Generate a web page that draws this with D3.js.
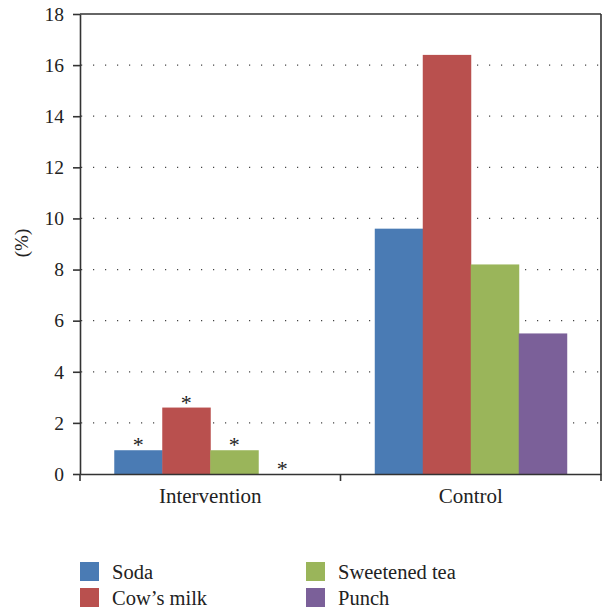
<!DOCTYPE html>
<html><head><meta charset="utf-8">
<script src="https://cdn.jsdelivr.net/npm/d3@7/dist/d3.min.js"></script>
<style>body{margin:0;background:#fff}svg{display:block}text{font-family:"Liberation Serif","DejaVu Serif",serif;fill:#222}</style>
</head><body><svg id="c" width="605" height="612"></svg>
<script>
const categories = ["Intervention", "Control"];
const seriesNames = ["Soda", "Cow\u2019s milk", "Sweetened tea", "Punch"];
const soda = [0.93, 9.6];
const cowsMilk = [2.6, 16.4];
const sweetenedTea = [0.93, 8.2];
const punch = [0, 5.5];
const significant = [true, false];
const yTicks = [0, 2, 4, 6, 8, 10, 12, 14, 16, 18];
const colors = ["#4a7bb4", "#b9504e", "#9ab55a", "#7b6099"];

const seriesValues = [soda, cowsMilk, sweetenedTea, punch];
const svg = d3.select("#c");
const L = 80, R = 601, T = 14, B = 474;
const x0 = d3.scaleBand().domain(categories).range([L, R]).paddingInner(0).paddingOuter(0);
const x1 = d3.scaleBand().domain(seriesNames).range([0, x0.bandwidth()]).paddingOuter(0.714).paddingInner(0);
const y = d3.scaleLinear().domain([0, 18]).range([B, T]);
const ink = "#333";

// dotted grid
svg.append("g").selectAll("line").data(yTicks.filter(t => t > 0 && t < 18)).join("line")
  .attr("x1", L + 1).attr("x2", R).attr("y1", d => y(d)).attr("y2", d => y(d))
  .attr("stroke", "#444").attr("stroke-width", 1.2).attr("stroke-dasharray", "1.2,10.8");

// bars
const groups = svg.append("g").selectAll("g").data(categories).join("g")
  .attr("transform", d => `translate(${x0(d)},0)`);
groups.selectAll("rect").data((c, ci) => seriesNames.map((s, si) => ({s, si, v: seriesValues[si][ci]}))).join("rect")
  .attr("x", d => x1(d.s)).attr("width", x1.bandwidth() + 0.5)
  .attr("y", d => y(d.v)).attr("height", d => B - y(d.v))
  .attr("fill", d => colors[d.si]);

// asterisks
groups.filter((c, ci) => significant[ci]).selectAll("text.ast")
  .data((c) => { const ci = categories.indexOf(c); return seriesNames.map((s, si) => ({s, v: seriesValues[si][ci]})); })
  .join("text").attr("class", "ast")
  .attr("x", d => x1(d.s) + x1.bandwidth() / 2).attr("y", d => y(d.v) + 2)
  .attr("text-anchor", "middle").attr("font-size", 22).text("*");

// frame
svg.append("line").attr("x1", L).attr("x2", R).attr("y1", T).attr("y2", T).attr("stroke", ink).attr("stroke-width", 1.6);
svg.append("line").attr("x1", R).attr("x2", R).attr("y1", T).attr("y2", B).attr("stroke", ink).attr("stroke-width", 1.6);

// y axis
const yAxis = svg.append("g").attr("transform", `translate(${L},0)`)
  .call(d3.axisLeft(y).tickValues(yTicks).tickSize(7).tickPadding(9).tickSizeOuter(0));
yAxis.select(".domain").attr("stroke", ink).attr("stroke-width", 1.6);
yAxis.selectAll(".tick line").attr("stroke", ink).attr("stroke-width", 1.6);
yAxis.selectAll("text").attr("font-size", 19.5).attr("font-family", "Liberation Serif").attr("fill", "#222");

// x axis
const xAxis = svg.append("g").attr("transform", `translate(0,${B})`)
  .call(d3.axisBottom(x0).tickSize(0).tickPadding(14).tickSizeOuter(0));
xAxis.select(".domain").attr("stroke", ink).attr("stroke-width", 1.6);
xAxis.selectAll("text").attr("font-size", 21).attr("font-family", "Liberation Serif").attr("fill", "#222");
const bounds = [L, x0(categories[1]), R];
svg.append("g").selectAll("line").data(bounds).join("line")
  .attr("x1", d => d).attr("x2", d => d).attr("y1", B).attr("y2", B + 7)
  .attr("stroke", ink).attr("stroke-width", 1.6);

// y label
svg.append("text").attr("transform", "translate(28,243) rotate(-90)")
  .attr("text-anchor", "middle").attr("font-size", 19).text("(%)");

// legend
const legendPos = [[80, 562], [80, 588], [306, 562], [306, 588]];
const lg = svg.append("g").selectAll("g").data(seriesNames).join("g")
  .attr("transform", (d, i) => `translate(${legendPos[i][0]},${legendPos[i][1]})`);
lg.append("rect").attr("width", 19).attr("height", 19).attr("fill", (d, i) => colors[i]);
lg.append("text").attr("x", 32).attr("y", 17).attr("font-size", 20.5).text(d => d);
</script></body></html>
